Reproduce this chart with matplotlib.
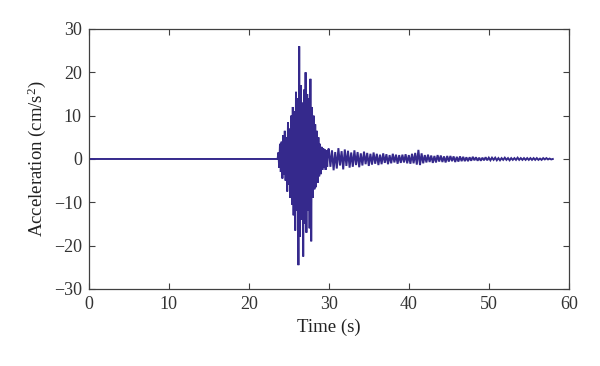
import numpy as np
import matplotlib
matplotlib.use("Agg")
import matplotlib.pyplot as plt

plt.rcParams['font.family'] = ['Liberation Serif', 'DejaVu Serif']
plt.rcParams['mathtext.default'] = 'regular'

# quiet pre-event record
quiet_time = [0.0, 23.6]
quiet_acc = [0.0, 0.0]

# strong-motion burst, sampled every 0.1 s from 23.7 s
burst_t0, burst_dt = 23.7, 0.1
burst_acc = [1.5, -2.0, 3.5, -3.0, 4.0, -4.5, 5.5, -3.5, 6.5, -5.0,
             5.0, -7.5, 8.5, -6.0, 7.0, -9.0, 10.0, -10.5, 12.0, -13.0,
             11.0, -16.5, 15.5, -12.0, 14.0, -24.5, 26.0, -18.0, 17.0, -14.0,
             13.0, -22.5, 16.0, -15.0, 20.0, -17.0, 15.0, -12.0, 14.0, -16.0,
             18.5, -19.0, 12.0, -9.0, 10.0, -7.0, 8.0, -6.5, 6.5, -5.5,
             5.0, -4.0, 3.5, -3.5, 2.8, -2.5, 2.5, -2.0, 2.2, -2.5,
             2.0, -1.8, 2.0]

# coda, sampled every 0.2 s from 30.0 s
coda_t0, coda_dt = 30.0, 0.2
coda_acc = [2.4, -1.8, 2.0, -2.6, 1.6, -2.2, 2.5, -1.5, 1.8, -2.4, 2.2, -1.6, 1.9, -2.0, 1.5,
            -1.8, 2.0, -1.4, 1.6, -1.9, 1.3, -1.5, 1.7, -1.2, 1.4, -1.6, 1.2, -1.3, 1.5, -1.1,
            1.2, -1.4, 1.0, -1.2, 1.3, -0.9, 1.1, -1.2, 0.9, -1.0, 1.2, -0.8, 1.0, -1.1, 0.9,
            -0.9, 1.0, -0.8, 1.1, -1.0,
            0.9, -1.1, 1.2, -1.0, 1.4, -1.3, 2.1, -1.4, 1.3, -1.0,
            0.9, -0.8, 1.0, -0.7, 0.8, -0.9, 0.7, -0.8, 0.9, -0.6, 0.8, -0.7, 0.6, -0.8, 0.7,
            -0.6, 0.7, -0.5, 0.6, -0.7, 0.5, -0.6, 0.6, -0.5, 0.5,
            -0.5, 0.4, -0.5, 0.4, -0.4, 0.5, -0.3, 0.4, -0.4, 0.3, -0.4, 0.3, -0.3, 0.4, -0.3,
            0.3, -0.3, 0.3, -0.2, 0.3, -0.3, 0.2, -0.3, 0.2, -0.2,
            0.3, -0.2, 0.2, -0.3, 0.2, -0.2, 0.2, -0.2, 0.3, -0.2, 0.2, -0.2, 0.2, -0.2, 0.2,
            -0.2, 0.2, -0.2, 0.2, -0.2, 0.2, -0.2, 0.1, -0.2, 0.2, -0.1, 0.2, -0.1, 0.1, -0.1, 0.0]

x_ticks = [0, 10, 20, 30, 40, 50, 60]
y_ticks = [-30, -20, -10, 0, 10, 20, 30]

burst_time = burst_t0 + burst_dt * np.arange(len(burst_acc))
coda_time = coda_t0 + coda_dt * np.arange(len(coda_acc))
time = np.concatenate([quiet_time, burst_time, coda_time])
acc = np.concatenate([quiet_acc, burst_acc, coda_acc])

fig = plt.figure(figsize=(6.0, 3.66), dpi=100)
ax = fig.add_axes([0.148, 0.2104, 0.8, 0.7104])
ax.plot(time, acc, color='#35298c', linewidth=1.4, solid_joinstyle='miter')

ax.set_xlim(0, 60)
ax.set_ylim(-30, 30)
ax.set_xticks(x_ticks)
ax.set_yticks(y_ticks)
ax.set_yticklabels([str(v).replace('-', '\u2212') for v in y_ticks])
ax.tick_params(direction='in', top=True, right=True, length=4, width=0.8,
               colors='#404040', labelcolor='#333333', labelsize=13, pad=5)
for s in ax.spines.values():
    s.set_color('#404040')
    s.set_linewidth(0.9)

ax.set_xlabel('Time (s)', fontsize=13.5, color='#222222', labelpad=4)
ax.set_ylabel(r'Acceleration (cm/s$^{2}$)', fontsize=13.5, color='#222222', labelpad=4)

fig.savefig('out.png', dpi=100)
